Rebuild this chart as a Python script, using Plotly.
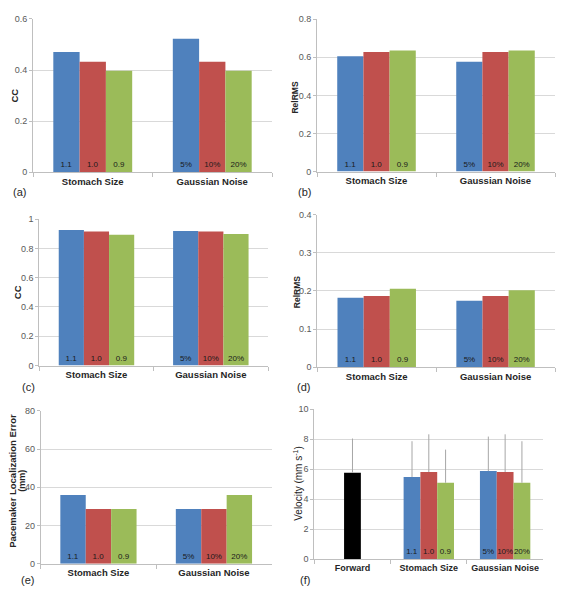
import plotly.graph_objects as go

W, H = 571, 600
M = 8  # default page body margin in the browser
FW, FH = W - 2 * M, H - 2 * M

# ---------------- data ----------------
categories = ["Stomach Size", "Gaussian Noise"]
categories_f = ["Forward", "Stomach Size", "Gaussian Noise"]
labels_blue = ["1.1", "5%"]
labels_red = ["1.0", "10%"]
labels_green = ["0.9", "20%"]

a_blue = [0.47, 0.522]
a_red = [0.432, 0.432]
a_green = [0.397, 0.397]

b_blue = [0.605, 0.576]
b_red = [0.628, 0.628]
b_green = [0.636, 0.636]

c_blue = [0.926, 0.919]
c_red = [0.915, 0.915]
c_green = [0.893, 0.899]

d_blue = [0.182, 0.174]
d_red = [0.187, 0.187]
d_green = [0.206, 0.202]

e_blue = [36.0, 28.6]
e_red = [28.6, 28.6]
e_green = [28.6, 36.0]

f_forward = [5.76]
f_forward_err = [2.28]
f_blue = [5.48, 5.87]
f_blue_err = [2.38, 2.30]
f_red = [5.81, 5.81]
f_red_err = [2.51, 2.51]
f_green = [5.09, 5.09]
f_green_err = [2.21, 2.77]

# ---------------- style ----------------
BLUE, RED, GREEN = "#4F81BD", "#C0504D", "#9BBB59"
FONT = "Liberation Sans, Arial, sans-serif"
BW = 0.22
OFFS = [-0.33, -0.11, 0.11]


def px_x(p):
    return (p - M) / FW


def px_y(p):
    return 1 - (p - M) / FH


def dx(a, b):
    return [px_x(a), px_x(b)]


def dy(top, bot):
    return [px_y(bot), px_y(top)]


panels = [
    ("a", (33, 272), (14, 170), 0.6, 0.2, (a_blue, a_red, a_green)),
    ("b", (317, 555), (14.3, 169.3), 0.8, 0.2, (b_blue, b_red, b_green)),
    ("c", (39.3, 268), (217.7, 366.7), 1.0, 0.2, (c_blue, c_red, c_green)),
    ("d", (317.3, 555), (213.3, 368.3), 0.4, 0.1, (d_blue, d_red, d_green)),
    ("e", (40.7, 271.7), (412.7, 568.3), 80, 20, (e_blue, e_red, e_green)),
]

fig = go.Figure()
layout = dict(
    width=FW, height=FH, margin=dict(l=0, r=0, t=0, b=0),
    paper_bgcolor="white", plot_bgcolor="white",
    barmode="overlay", showlegend=False,
    font=dict(family=FONT, color="#262626"),
)


def yaxis_style(dom, rng, dt, anchor):
    return dict(domain=dy(*dom), range=[0, rng], dtick=dt, anchor=anchor,
                showline=True, linecolor="#BFBFBF", linewidth=1,
                showgrid=True, gridcolor="#D9D9D9", gridwidth=1,
                zeroline=False, ticks="outside", ticklen=3, tickcolor="#BFBFBF",
                tickfont=dict(size=9, color="#595959", family=FONT))


def xaxis_style(dom, anchor, cats, size=9.5):
    return dict(domain=dx(*dom), anchor=anchor, type="category",
                categoryorder="array", categoryarray=cats, range=[-0.5, len(cats) - 0.5],
                showline=True, linecolor="#BFBFBF", linewidth=1, showgrid=False,
                ticks="outside", ticklen=4, tickcolor="#BFBFBF", tickson="boundaries",
                tickangle=0,
                tickfont=dict(size=size, color="#262626", family=FONT, weight="bold"))


textfont = dict(size=8, color="#1a1a1a", family=FONT)

for i, (key, xd, yd, rng, dt, series) in enumerate(panels):
    n = "" if i == 0 else str(i + 1)
    xa, ya = "x" + n, "y" + n
    layout["xaxis" + n] = xaxis_style(xd, ya, categories)
    layout["yaxis" + n] = yaxis_style(yd, rng, dt, xa)
    for vals, col, lab, off in zip(series, (BLUE, RED, GREEN),
                                   (labels_blue, labels_red, labels_green), OFFS):
        fig.add_trace(go.Bar(x=categories, y=vals, xaxis=xa, yaxis=ya,
                             marker=dict(color=col, line=dict(width=0)),
                             width=BW, offset=off, text=lab,
                             textposition="inside", insidetextanchor="start",
                             textangle=0, constraintext="none", textfont=textfont,
                             hoverinfo="skip"))

# panel f
layout["xaxis6"] = xaxis_style((314.3, 543.3), "y6", categories_f, size=9)
layout["yaxis6"] = yaxis_style((411, 563.7), 10, 2, "x6")
err_style = dict(type="data", symmetric=False, color="#A6A6A6", thickness=1, width=0)
fig.add_trace(go.Bar(x=["Forward"], y=f_forward, xaxis="x6", yaxis="y6",
                     marker=dict(color="#000000", line=dict(width=0)),
                     width=BW, offset=-0.11,
                     error_y=dict(array=f_forward_err, arrayminus=[0], **err_style),
                     hoverinfo="skip"))
for vals, errs, col, lab, off in zip((f_blue, f_red, f_green),
                                     (f_blue_err, f_red_err, f_green_err),
                                     (BLUE, RED, GREEN),
                                     (labels_blue, labels_red, labels_green), OFFS):
    fig.add_trace(go.Bar(x=categories, y=vals, xaxis="x6", yaxis="y6",
                         marker=dict(color=col, line=dict(width=0)),
                         width=BW, offset=off, text=lab,
                         textposition="inside", insidetextanchor="start",
                         textangle=0, constraintext="none", textfont=textfont,
                         error_y=dict(array=errs, arrayminus=[0] * len(errs), **err_style),
                         hoverinfo="skip"))

# annotations: y titles and panel labels
ann = []


def add_text(px, py, text, size, angle=0, color="#262626"):
    ann.append(dict(x=px_x(px), y=px_y(py), xref="paper", yref="paper",
                    text=text, showarrow=False, textangle=angle,
                    xanchor="center", yanchor="middle",
                    font=dict(size=size, family=FONT, color=color)))


add_text(15, 92, "<b>CC</b>", 9.5, -90)
add_text(295, 94, "<b>RelRMS</b>", 8.5, -90)
add_text(17, 292, "<b>CC</b>", 9.5, -90)
add_text(297, 292, "<b>RelRMS</b>", 8.5, -90)
add_text(13, 484, "<b>Pacemaker Localization Error</b>", 9.5, -90)
add_text(22, 484, "<b>(mm)</b>", 9, -90)
add_text(298, 487, "Velocity (mm s<sup>-1</sup>)", 10, -90)

add_text(19, 190, "(a)", 11)
add_text(304, 190, "(b)", 11)
add_text(28, 389, "(c)", 11)
add_text(303, 389, "(d)", 11)
add_text(27, 585, "(e)", 11)
add_text(305, 585, "(f)", 11)

layout["annotations"] = ann
fig.update_layout(**layout)
fig.write_html("out.html")
